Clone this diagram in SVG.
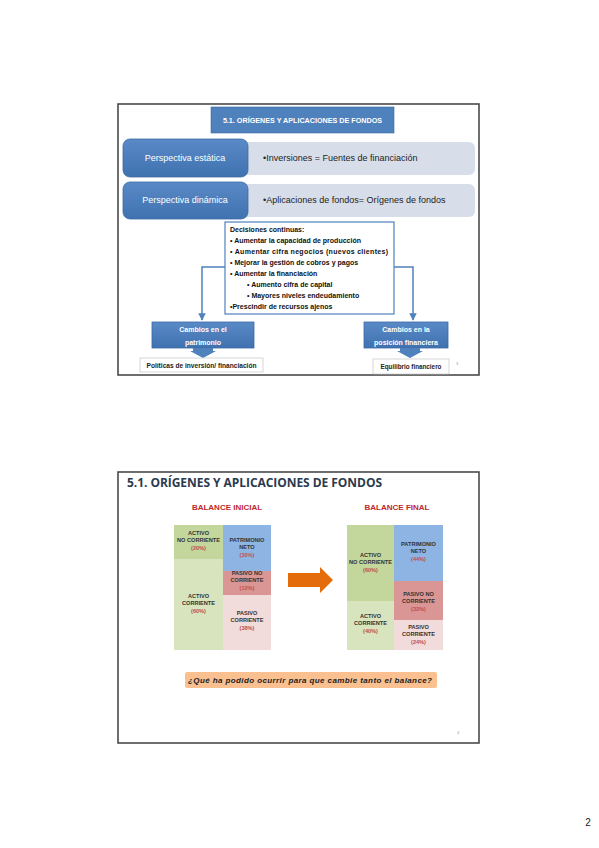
<svg xmlns="http://www.w3.org/2000/svg" width="599" height="848" viewBox="0 0 599 848">
<defs>
<linearGradient id="bg" x1="0" y1="0" x2="0" y2="1">
<stop offset="0" stop-color="#5a8ac6"/><stop offset="1" stop-color="#3f72b0"/>
</linearGradient>
<marker id="ah" viewBox="0 0 10 10" refX="9" refY="5" markerWidth="5" markerHeight="5" orient="auto">
<path d="M0,0 L10,5 L0,10 z" fill="#4f81bd"/>
</marker>
</defs>
<style>
.slide{fill:#fff;stroke:#4a4a4a;stroke-width:1.6}
.blue{fill:url(#bg);stroke:#3a6aa5;stroke-width:0.8}
.gray{fill:#d8dee9}
.wt{fill:#fff;font-family:"Liberation Sans",Arial,sans-serif}
.dk{fill:#222;font-family:"Liberation Sans",Arial,sans-serif}
.dec{fill:#111;font-family:"Liberation Sans",Arial,sans-serif;font-size:7px;font-weight:bold}
.conn{fill:none;stroke:#4f81bd;stroke-width:1.5}
.bt{fill:#333;font-family:"Liberation Sans",Arial,sans-serif;font-size:5.6px;font-weight:bold;text-anchor:middle}
.pc{fill:#c0504d}
.rt{fill:#c0282b;font-family:"Liberation Sans",Arial,sans-serif;font-size:8px;font-weight:bold;text-anchor:middle}
</style>
<rect width="599" height="848" fill="#fff"/>

<!-- Slide 1 -->
<g id="slide1">
<rect class="slide" x="118" y="104" width="361" height="271"/>
</g>
<g id="title1">
<rect x="211" y="107" width="183" height="26" fill="#4f81bd" stroke="#3a6aa5" stroke-width="0.6"/>
<text class="wt" x="302.5" y="123" font-size="7.2" font-weight="bold" text-anchor="middle">5.1. ORÍGENES Y APLICACIONES DE FONDOS</text>
</g>
<g id="estatica">
<rect class="gray" x="236" y="142" width="239" height="33" rx="6"/>
<rect class="blue" x="123" y="139" width="125" height="38" rx="7"/>
<text class="wt" x="185" y="161" font-size="9" text-anchor="middle">Perspectiva estática</text>
<text class="dk" x="263" y="161" font-size="9">•Inversiones = Fuentes de financiación</text>
</g>
<g id="dinamica">
<rect class="gray" x="236" y="184" width="239" height="33" rx="6"/>
<rect class="blue" x="123" y="182" width="125" height="37" rx="7"/>
<text class="wt" x="185" y="203" font-size="9" text-anchor="middle">Perspectiva dinámica</text>
<text class="dk" x="263" y="203" font-size="9">•Aplicaciones de fondos= Orígenes de fondos</text>
</g>
<g id="connectors1">
<path class="conn" d="M225,267 H202 V320" marker-end="url(#ah)"/>
<path class="conn" d="M394,267 H413 V320" marker-end="url(#ah)"/>
</g>
<g id="decisiones">
<rect x="225" y="222" width="169" height="92" fill="#fff" stroke="#4f81bd" stroke-width="1.2"/>
<text class="dec" x="230" y="232">Decisiones continuas:</text>
<text class="dec" x="230" y="243">• Aumentar la capacidad de producción</text>
<text class="dec" x="230" y="254" textLength="158">• Aumentar cifra negocios (nuevos clientes)</text>
<text class="dec" x="230" y="265">• Mejorar la gestión de cobros y pagos</text>
<text class="dec" x="230" y="276">• Aumentar la financiación</text>
<text class="dec" x="247" y="287">• Aumento cifra de capital</text>
<text class="dec" x="247" y="298">• Mayores niveles endeudamiento</text>
<text class="dec" x="230" y="309">•Prescindir de recursos ajenos</text>
</g>
<g id="patrimonio">
<rect class="blue" x="152" y="322" width="102" height="26"/>
<text class="wt" x="203" y="332" font-size="7" font-weight="bold" text-anchor="middle">Cambios en el</text>
<text class="wt" x="203" y="345" font-size="7" font-weight="bold" text-anchor="middle">patrimonio</text>
<path d="M193,348 H213 V351 H216 L203,358 L190,351 H193 z" fill="#4f81bd"/>
</g>
<g id="posicion">
<rect class="blue" x="364" y="322" width="84" height="26"/>
<text class="wt" x="406" y="332" font-size="7" font-weight="bold" text-anchor="middle">Cambios en la</text>
<text class="wt" x="406" y="345" font-size="7" font-weight="bold" text-anchor="middle">posición financiera</text>
<path d="M400,348 H420 V351 H423 L410,358 L397,351 H400 z" fill="#4f81bd"/>
</g>
<g id="politicas">
<rect x="140" y="358" width="123" height="14" fill="#fff" stroke="#bbb" stroke-width="0.6"/>
<text class="dk" x="201.5" y="367.5" font-size="6.6" font-weight="bold" text-anchor="middle">Políticas de inversión/ financiación</text>
</g>
<g id="equilibrio">
<rect x="373" y="359" width="76" height="15" fill="#fff" stroke="#bbb" stroke-width="0.6"/>
<text class="dk" x="411" y="369" font-size="6.3" font-weight="bold" text-anchor="middle">Equilibrio financiero</text>
</g>
<text x="457" y="365" font-family="Liberation Sans,Arial,sans-serif" font-size="4" fill="#999" text-anchor="middle">3</text>

<!-- Slide 2 -->
<g id="slide2">
<rect class="slide" x="118" y="472" width="361" height="271"/>
<text x="127" y="487" font-family="'Open Sans','Liberation Sans',sans-serif" font-size="12" font-weight="bold" fill="#2b3a4e" textLength="255">5.1. ORÍGENES Y APLICACIONES DE FONDOS</text>
<text class="rt" x="227" y="510">BALANCE INICIAL</text>
<text class="rt" x="397" y="510">BALANCE FINAL</text>
</g>
<g id="balance-inicial">
<rect x="174" y="525" width="49" height="34" fill="#c3d69b"/>
<rect x="174" y="559" width="49" height="91" fill="#d7e4bd"/>
<rect x="223" y="525" width="48" height="46" fill="#8eb4e3"/>
<rect x="223" y="571" width="48" height="24" fill="#d99694"/>
<rect x="223" y="595" width="48" height="55" fill="#f2dcdb"/>
<text class="bt" x="198.5" y="535">ACTIVO</text>
<text class="bt" x="198.5" y="542">NO CORRIENTE</text>
<text class="bt pc" x="198.5" y="550">(20%)</text>
<text class="bt" x="247" y="542">PATRIMONIO</text>
<text class="bt" x="247" y="549">NETO</text>
<text class="bt pc" x="247" y="557">(30%)</text>
<text class="bt" x="247" y="575">PASIVO NO</text>
<text class="bt" x="247" y="582">CORRIENTE</text>
<text class="bt pc" x="247" y="590">(12%)</text>
<text class="bt" x="198.5" y="598">ACTIVO</text>
<text class="bt" x="198.5" y="605">CORRIENTE</text>
<text class="bt pc" x="198.5" y="613">(60%)</text>
<text class="bt" x="247" y="615">PASIVO</text>
<text class="bt" x="247" y="622">CORRIENTE</text>
<text class="bt pc" x="247" y="630">(38%)</text>
</g>
<g id="flecha">
<path d="M288,573 H320 V567 L333,580 L320,593 V587 H288 z" fill="#e46c0a"/>
</g>
<g id="balance-final">
<rect x="347" y="525" width="47" height="76" fill="#c3d69b"/>
<rect x="347" y="601" width="47" height="49" fill="#d7e4bd"/>
<rect x="394" y="525" width="49" height="56" fill="#8eb4e3"/>
<rect x="394" y="581" width="49" height="39" fill="#d99694"/>
<rect x="394" y="620" width="49" height="30" fill="#f2dcdb"/>
<text class="bt" x="370.5" y="557">ACTIVO</text>
<text class="bt" x="370.5" y="564">NO CORRIENTE</text>
<text class="bt pc" x="370.5" y="572">(60%)</text>
<text class="bt" x="418.5" y="546">PATRIMONIO</text>
<text class="bt" x="418.5" y="553">NETO</text>
<text class="bt pc" x="418.5" y="561">(44%)</text>
<text class="bt" x="418.5" y="596">PASIVO NO</text>
<text class="bt" x="418.5" y="603">CORRIENTE</text>
<text class="bt pc" x="418.5" y="611">(32%)</text>
<text class="bt" x="370.5" y="618">ACTIVO</text>
<text class="bt" x="370.5" y="625">CORRIENTE</text>
<text class="bt pc" x="370.5" y="633">(40%)</text>
<text class="bt" x="418.5" y="629">PASIVO</text>
<text class="bt" x="418.5" y="636">CORRIENTE</text>
<text class="bt pc" x="418.5" y="644">(24%)</text>
</g>
<g id="pregunta">
<rect x="185" y="672" width="252" height="16" rx="2" fill="#fac090"/>
<text x="188" y="683" font-family="'Liberation Sans',Arial,sans-serif" font-size="8" font-weight="bold" font-style="italic" fill="#222" textLength="244">¿Qué ha podido ocurrir para que cambie tanto el balance?</text>
</g>
<text x="458" y="734" font-family="Liberation Sans,Arial,sans-serif" font-size="4" fill="#999" text-anchor="middle">4</text>

<text x="588" y="826" font-family="'Liberation Sans',Arial,sans-serif" font-size="10" fill="#222" text-anchor="middle">2</text>
</svg>
